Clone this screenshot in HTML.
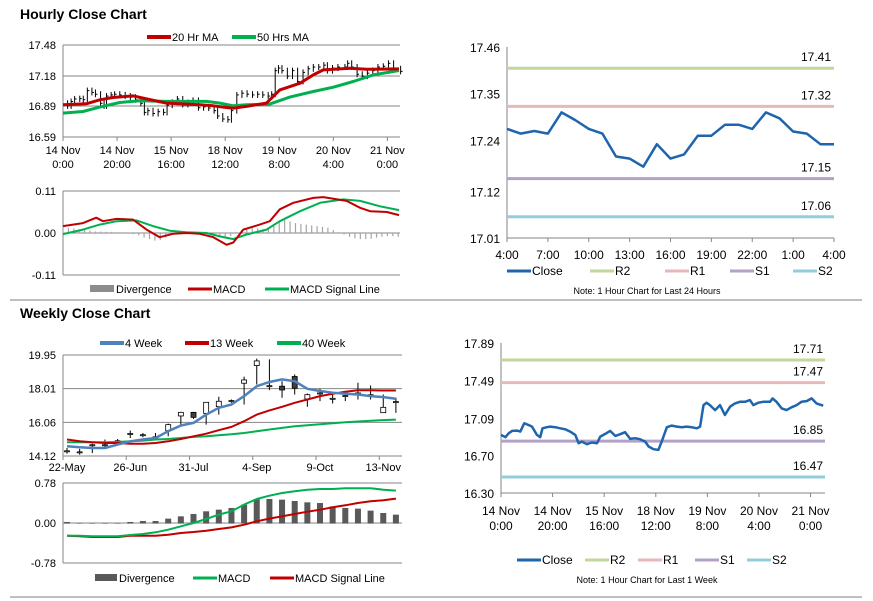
<!DOCTYPE html>
<html><head><meta charset="utf-8"><style>
html,body{margin:0;padding:0;background:#fff;width:873px;height:601px;overflow:hidden}
svg{display:block;font-family:"Liberation Sans",Arial,sans-serif}
</style></head><body>
<svg id="s" width="873" height="601" viewBox="0 0 873 601" xmlns="http://www.w3.org/2000/svg">
<text x="20" y="19" font-size="14" font-weight="bold" fill="#000">Hourly Close Chart</text>
<text x="20" y="318" font-size="14" font-weight="bold" fill="#000">Weekly Close Chart</text>
<line x1="10" y1="300" x2="862" y2="300" stroke="#808080" stroke-width="1"/>
<line x1="10" y1="597" x2="862" y2="597" stroke="#808080" stroke-width="1"/>
</svg>
<script>
// ---------- DATA ----------
// Hourly (week) close: hours since 14 Nov 0:00 and close values
const wkHours=[0,1.7,3,4.3,6.2,7.5,9,10.7,12,13.9,15.2,16.1,17.8,19.1,21,23,24.9,26.8,28.8,30.1,31.4,33.3,35.2,37.2,38.5,40.4,42.3,44.3,46.2,48.1,50.1,52,53.9,55.9,57.2,59.1,61,62.3,64.3,66.2,68.1,70.1,72,73.9,75.9,77.2,78.5,79.7,81,83,84.9,86.8,88.8,90.7,92.6,94.6,96.5,97.8,99.7,101.7,104.3,105.3,106.8,108.8,110.7,112.6,114.6,116.5,118.5,120.4,122.3,124.9];
const wkClose=[16.916,16.891,16.933,16.958,16.961,16.951,17.039,17.021,17.004,16.916,16.891,16.986,16.997,17.004,16.997,16.986,16.975,16.951,16.916,16.828,16.845,16.817,16.835,16.828,16.898,16.926,16.958,16.905,16.923,16.944,16.873,16.881,16.870,16.845,16.793,16.764,16.757,16.845,16.997,17.014,17.004,16.997,17.004,16.997,16.986,17.004,17.232,17.257,17.232,17.179,17.232,17.127,17.215,17.250,17.267,17.267,17.285,17.232,17.257,17.267,17.267,17.303,17.267,17.197,17.179,17.208,17.232,17.267,17.274,17.303,17.250,17.225];
const ma20Hours=[0,8.6,13.6,18.5,25.9,30.9,38.3,45.7,50.6,55.6,59.3,63,67.9,75.3,80.2,87.7,92.6,96.3,106.2,112.3,124.3];
const ma20=[16.902,16.911,16.950,16.972,16.988,16.959,16.918,16.908,16.902,16.892,16.879,16.869,16.886,16.918,17.046,17.110,17.191,17.239,17.255,17.245,17.249];
const ma50Hours=[0,7.4,13.6,21,28.4,38.3,53.1,58,63,67.9,76.5,83.9,92.6,100,107.4,114.8,124.3];
const ma50=[16.821,16.837,16.879,16.924,16.940,16.934,16.934,16.918,16.892,16.902,16.908,16.976,17.030,17.072,17.127,17.191,17.233];
const hMacdHours=[0,7.4,12.3,14.8,19.8,25.9,30.9,35.8,40.7,45.7,50.6,55.6,60.5,63,66.7,72.8,76.5,80.2,85.2,92.6,96.3,104.9,109.9,113.6,119.8,124.3];
const hMacd=[0.018,0.026,0.040,0.031,0.037,0.035,0.009,-0.011,-0.002,0,-0.002,-0.011,-0.031,-0.025,0.009,0.022,0.031,0.062,0.079,0.092,0.094,0.084,0.066,0.057,0.055,0.047];
const hSigHours=[0,7.4,13.6,19.8,27.2,33.3,39.5,45.7,53.1,58,63,67.9,75.3,80.2,87.7,95.1,103.7,109.9,117.3,124.3];
const hSig=[-0.003,0.009,0.022,0.031,0.033,0.018,0.006,0.002,0,-0.009,-0.016,-0.004,0.009,0.031,0.057,0.079,0.088,0.084,0.070,0.060];
const hDiv=[0.012,0.013,0.012,0.010,0.008,0.006,0.004,0.004,0.003,0.003,0.002,0.001,0,-0.003,-0.006,-0.012,-0.016,-0.020,-0.018,-0.012,-0.005,-0.002,0,0,0,0.001,0,-0.002,-0.004,-0.007,-0.012,-0.008,0.002,0.008,0.012,0.013,0.012,0.010,0.012,0.018,0.030,0.035,0.030,0.026,0.024,0.022,0.020,0.018,0.016,0.014,0.008,0.002,-0.004,-0.010,-0.014,-0.016,-0.016,-0.015,-0.012,-0.010,-0.008,-0.008,-0.010];
const hourTickHours=[0,20,40,60,80,100,120];
const hourTickTop=["14 Nov","14 Nov","15 Nov","18 Nov","19 Nov","20 Nov","21 Nov"];
const hourTickBot=["0:00","20:00","16:00","12:00","8:00","4:00","0:00"];
// 24h chart
const dayLabels=["4:00","7:00","10:00","13:00","16:00","19:00","22:00","1:00","4:00"];
const dayClose=[17.267,17.256,17.262,17.256,17.306,17.288,17.267,17.256,17.202,17.197,17.178,17.231,17.197,17.207,17.251,17.251,17.277,17.277,17.267,17.306,17.292,17.261,17.256,17.231,17.231];
const dayLevels=[17.41,17.32,17.15,17.06];
const weekLevels=[17.71,17.47,16.85,16.47];
const levelNames=["R2","R1","S1","S2"];
// Weekly
const wLabels=["22-May","26-Jun","31-Jul","4-Sep","9-Oct","13-Nov"];
const wLabelIdx=[0,5,10,15,20,25];
const wOpen=[14.39,14.33,14.74,14.74,14.97,15.39,15.32,15.20,15.61,16.46,16.61,16.61,17.00,17.29,18.35,19.37,18.15,18.12,18.68,17.44,17.73,17.42,17.58,17.73,17.63,16.65,17.23];
const wClose=[14.39,14.33,14.74,14.74,14.97,15.39,15.32,15.20,15.90,16.61,16.38,17.19,17.25,17.29,18.48,19.58,18.15,17.96,18.06,17.63,17.73,17.42,17.58,17.73,17.63,16.90,17.23];
const wHigh=[14.58,14.53,14.83,15.07,15.10,15.59,15.45,15.45,15.99,16.67,16.67,17.23,17.54,17.38,18.70,19.74,19.70,18.44,18.83,17.73,18.00,17.67,17.87,18.35,18.19,17.67,17.48];
const wLow=[14.26,14.20,14.29,14.58,14.87,15.16,15.20,15.07,15.26,15.88,16.26,15.93,16.51,17.19,17.09,18.25,17.92,17.48,17.67,16.96,17.29,17.15,17.29,17.38,17.38,16.61,16.61];
const w4=[14.68,14.62,14.58,14.58,14.78,14.97,15.07,15.16,15.55,15.88,16.03,16.51,16.90,17.09,17.58,18.15,18.39,18.54,18.44,18.00,17.87,17.77,17.71,17.67,17.58,17.52,17.42];
const w13=[15.07,14.97,14.91,14.87,14.87,14.83,14.83,14.87,14.97,15.10,15.26,15.41,15.61,15.80,16.13,16.51,16.75,16.96,17.19,17.38,17.58,17.71,17.83,17.92,17.92,17.90,17.90];
const w40=[14.91,14.91,14.91,14.91,14.93,14.97,15.01,15.07,15.10,15.16,15.22,15.26,15.32,15.37,15.45,15.55,15.65,15.74,15.84,15.90,15.95,16.01,16.07,16.11,16.15,16.19,16.22];
const wMacd=[-0.247,-0.247,-0.260,-0.260,-0.260,-0.234,-0.215,-0.182,-0.130,-0.065,0,0.078,0.163,0.228,0.358,0.468,0.533,0.585,0.618,0.650,0.663,0.663,0.676,0.676,0.676,0.650,0.631];
const wSig=[-0.247,-0.260,-0.273,-0.273,-0.273,-0.247,-0.247,-0.247,-0.228,-0.195,-0.176,-0.150,-0.117,-0.085,-0.033,0.033,0.085,0.130,0.176,0.221,0.260,0.306,0.345,0.390,0.423,0.442,0.475];
const wDiv=[0.020,0,0,0,0,0.020,0.039,0.039,0.085,0.130,0.176,0.228,0.260,0.293,0.358,0.468,0.468,0.455,0.429,0.403,0.390,0.325,0.293,0.280,0.241,0.195,0.163];

// ---------- helpers ----------
const svg=document.getElementById('s');
const NS='http://www.w3.org/2000/svg';
function mk(tag,attrs,name,inter){
  const el=document.createElementNS(NS,tag);
  for(const k in attrs) el.setAttribute(k,attrs[k]);
  
  
  svg.appendChild(el);return el;
}
function txt(x,y,s,size,anchor,name,extra){
  const el=mk('text',Object.assign({x:x,y:y,'font-size':size,'text-anchor':anchor||'start',fill:'#000'},extra||{}),name);
  el.textContent=s;return el;
}
function lin(d0,d1,r0,r1){return v=>r0+(v-d0)/(d1-d0)*(r1-r0);}
function poly(xs,ys,color,w,name){
  const p=xs.map((x,i)=>x.toFixed(1)+','+ys[i].toFixed(1)).join(' ');
  return mk('polyline',{points:p,fill:'none',stroke:color,'stroke-width':w,'stroke-linejoin':'round'},name);
}
function hline(x1,x2,y,color,w,name){return mk('line',{x1:x1,x2:x2,y1:y,y2:y,stroke:color,'stroke-width':w},name);}
function vline(x,y1,y2,color,w,name){return mk('line',{x1:x,x2:x,y1:y1,y2:y2,stroke:color,'stroke-width':w},name);}
function legendLine(x,y,color,label,w,name,fs){
  hline(x,x+24,y,color,w||4,name+'-swatch');
  txt(x+25,y+4,label,fs||11,'start',name+'-label');
}
const RED='#c00000',GRN='#00b050',GRID='#868686',BLUE='#4f81bd',CBLUE='#1f65ad';
const LCOL=['#c3d69b','#e6b9b8','#b3a2c7','#93cddd'];

// ---------- Hourly price chart (top-left) ----------
{
  const xH=lin(0,124.3,63,399), y=lin(16.59,17.48,137,45);
  const ticks=[17.48,17.18,16.89,16.59];
  ticks.forEach((t,i)=>{ if(i<3) hline(63,400,y(t),GRID,1,'hourly-gridline'); txt(56,y(t)+4,t.toFixed(2),11,'end','hourly-y-tick'); });
  hline(63,400,137,GRID,1,'hourly-x-axis');
  vline(63,45,137,GRID,1,'hourly-y-axis');
  hourTickHours.forEach((h,i)=>{
    vline(xH(h),137,141,GRID,1,'hourly-x-tick-mark');
    txt(xH(h),154,hourTickTop[i],11,'middle','hourly-x-tick');
    txt(xH(h),168,hourTickBot[i],11,'middle','hourly-x-tick');
  });
  // candle-like bars from closes
  wkHours.forEach((h,i)=>{
    if(i===0) return;
    const a=y(wkClose[i-1]),b=y(wkClose[i]);
    vline(xH(h),Math.min(a,b)-3,Math.max(a,b)+3,'#000',1,'hourly-bar');
    hline(xH(h),xH(h)+2,b,'#000',1,'hourly-bar-close');
  });
  poly(ma50Hours.map(xH),ma50.map(y),GRN,3,'ma50-line');
  poly(ma20Hours.map(xH),ma20.map(y),RED,3,'ma20-line');
  legendLine(147,37,RED,'20 Hr MA',4,'legend-ma20');
  legendLine(232,37,GRN,'50 Hrs MA',4,'legend-ma50');
}
// ---------- Hourly MACD ----------
{
  const xH=lin(0,124.3,63,399), y=lin(-0.11,0.11,275,191);
  [0.11,0.00,-0.11].forEach(t=>{ hline(63,400,y(t),GRID,1,'hourly-macd-gridline'); txt(56,y(t)+4,t.toFixed(2),11,'end','hourly-macd-y-tick'); });
  vline(63,191,275,GRID,1,'hourly-macd-y-axis');
  hDiv.forEach((d,i)=>{ const x=xH(i*2); mk('rect',{x:x-0.6,y:Math.min(y(0),y(d)),width:1.2,height:Math.abs(y(d)-y(0))+0.01,fill:'#a6a6a6'},'hourly-divergence-bar'); });
  poly(hSigHours.map(xH),hSig.map(y),GRN,2,'hourly-signal-line');
  poly(hMacdHours.map(xH),hMacd.map(y),RED,2,'hourly-macd-line');
  mk('rect',{x:90,y:285,width:24,height:7,fill:'#8c8c8c'},'legend-divergence-swatch');
  txt(116,293,'Divergence',11,'start','legend-divergence-label');
  legendLine(188,289,RED,'MACD',3,'legend-macd');
  legendLine(265,289,GRN,'MACD Signal Line',3,'legend-signal');
}
// ---------- 24h chart (top-right) ----------
{
  const x=lin(0,24,507,834), y=lin(17.01,17.46,238,47);
  [17.46,17.35,17.24,17.12,17.01].forEach(t=>txt(500,y(t)+5,t.toFixed(2),12,'end','day-y-tick'));
  vline(507,47,238,GRID,1,'day-y-axis');
  hline(507,834,238,GRID,1,'day-x-axis');
  dayLabels.forEach((l,i)=>{ vline(x(i*3),238,242,GRID,1,'day-x-tick-mark'); txt(x(i*3),259,l,12,'middle','day-x-tick'); });
  dayLevels.forEach((v,i)=>{ hline(507,834,y(v),LCOL[i],3,'day-level-'+levelNames[i]); txt(831,y(v)-7,v.toFixed(2),12,'end','day-level-label'); });
  poly(dayClose.map((v,i)=>x(i)),dayClose.map(y),CBLUE,2.5,'day-close-line');
  legendLine(507,271,CBLUE,'Close',3,'day-legend-close',12);
  levelNames.forEach((n,i)=>legendLine([590,665,730,793][i],271,LCOL[i],n,3,'day-legend-'+n,12));
  txt(647,294,'Note: 1 Hour Chart for Last 24 Hours',9,'middle','day-note');
}
// ---------- Weekly price chart ----------
{
  const xW=i=>67+i*12.65, y=lin(14.12,19.95,456,355);
  [19.95,18.01,16.06,14.12].forEach((t,i)=>{ hline(63,402,y(t),GRID,1,'weekly-gridline'); txt(56,y(t)+4,t.toFixed(2),11,'end','weekly-y-tick'); });
  vline(63,355,456,GRID,1,'weekly-y-axis');
  wLabelIdx.forEach((k,i)=>{ vline(xW(k)-4,456,460,GRID,1,'weekly-x-tick-mark'); txt(xW(k),471,wLabels[i],11,'middle','weekly-x-tick'); });
  wOpen.forEach((o,i)=>{
    const c=wClose[i],x=xW(i);
    vline(x,y(wHigh[i]),y(wLow[i]),'#000',1,'weekly-candle-wick');
    const top=y(Math.max(o,c)),bot=y(Math.min(o,c));
    mk('rect',{x:x-2.5,y:top-0.5,width:5,height:Math.max(bot-top,0)+1,fill:c<o?'#404040':'#fff',stroke:'#000','stroke-width':0.8},'weekly-candle-body');
  });
  poly(wOpen.map((v,i)=>xW(i)),w40.map(y),GRN,2,'ma40w-line');
  poly(wOpen.map((v,i)=>xW(i)),w13.map(y),RED,2,'ma13w-line');
  poly(wOpen.map((v,i)=>xW(i)),w4.map(y),BLUE,2.5,'ma4w-line');
  legendLine(100,343,BLUE,'4 Week',4,'legend-4w');
  legendLine(185,343,RED,'13 Week',4,'legend-13w');
  legendLine(277,343,GRN,'40 Week',4,'legend-40w');
}
// ---------- Weekly MACD ----------
{
  const xW=i=>67+i*12.65, y=lin(-0.78,0.78,563,483);
  [0.78,0.00,-0.78].forEach(t=>{ hline(63,402,y(t),GRID,1,'weekly-macd-gridline'); txt(56,y(t)+4,t.toFixed(2),11,'end','weekly-macd-y-tick'); });
  vline(63,483,563,GRID,1,'weekly-macd-y-axis');
  wDiv.forEach((d,i)=>mk('rect',{x:xW(i)-3,y:Math.min(y(0),y(d)),width:6,height:Math.abs(y(d)-y(0))+0.6,fill:'#595959'},'weekly-divergence-bar'));
  poly(wSig.map((v,i)=>xW(i)),wSig.map(y),RED,2,'weekly-signal-line');
  poly(wMacd.map((v,i)=>xW(i)),wMacd.map(y),GRN,2,'weekly-macd-line');
  mk('rect',{x:95,y:574,width:22,height:7,fill:'#595959'},'weekly-legend-divergence-swatch');
  txt(119,582,'Divergence',11,'start','weekly-legend-divergence-label');
  legendLine(193,578,GRN,'MACD',3,'weekly-legend-macd');
  legendLine(270,578,RED,'MACD Signal Line',3,'weekly-legend-signal');
}
// ---------- Week hourly chart (bottom-right) ----------
{
  const x=lin(0,125.6,501,825), y=lin(16.30,17.89,493,343);
  [17.89,17.49,17.09,16.70,16.30].forEach(t=>txt(494,y(t)+5,t.toFixed(2),12,'end','week-y-tick'));
  vline(501,343,493,GRID,1,'week-y-axis');
  hline(501,825,493,GRID,1,'week-x-axis');
  hourTickHours.forEach((h,i)=>{
    vline(x(h),493,497,GRID,1,'week-x-tick-mark');
    txt(x(h),515,hourTickTop[i],12,'middle','week-x-tick');
    txt(x(h),530,hourTickBot[i],12,'middle','week-x-tick');
  });
  weekLevels.forEach((v,i)=>{ hline(501,825,y(v),LCOL[i],3,'week-level-'+levelNames[i]); txt(823,y(v)-7,v.toFixed(2),12,'end','week-level-label'); });
  poly(wkHours.map(x),wkClose.map(y),CBLUE,2.5,'week-close-line');
  legendLine(517,560,CBLUE,'Close',3,'week-legend-close',12);
  levelNames.forEach((n,i)=>legendLine([585,638,695,747][i],560,LCOL[i],n,3,'week-legend-'+n,12));
  txt(647,583,'Note: 1 Hour Chart for Last 1 Week',9,'middle','week-note');
}
</script>
</body></html>
